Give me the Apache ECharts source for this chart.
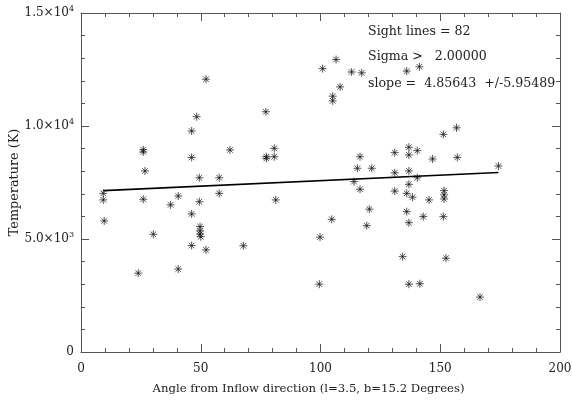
<!DOCTYPE html>
<html>
<head>
<meta charset="utf-8">
<script src="https://cdn.jsdelivr.net/npm/echarts@6/dist/echarts.min.js"></script>
<style>html,body{margin:0;padding:0;background:#fff}#c{width:572px;height:400px}</style>
</head>
<body>
<div id="c"></div>
<script>
// Angle from inflow direction (degrees)
const angles = [
  9.3, 9.3, 9.7, 23.9, 26.0, 26.0, 26.7, 26.0, 30.2, 37.4,
  40.6, 40.6, 46.2, 46.2, 46.2, 46.2, 48.3, 49.4, 49.4, 49.7,
  49.7, 49.7, 50.0, 52.2, 52.2, 57.7, 57.7, 62.2, 67.8, 77.2,
  77.4, 77.4, 80.7, 80.7, 81.3,
  99.5, 99.8, 100.9, 104.7, 105.1, 105.1, 106.5, 108.2, 113.0, 114.0,
  115.4, 116.5, 116.5, 117.2, 119.3, 120.4, 121.4,
  131.0, 131.0, 131.0, 134.3, 136.0, 136.0, 136.0, 136.9, 136.9, 136.9,
  136.9, 136.9, 136.9, 138.4, 140.4, 140.4, 141.3, 141.5, 142.9, 145.3,
  146.8, 151.3, 151.6, 151.6, 151.6, 151.3, 152.4, 156.8, 157.1, 166.6,
  174.3
];
// Temperature (K)
const temps = [
  7020, 6730, 5800, 3490, 8950, 8850, 8010, 6760, 5210, 6510,
  6900, 3670, 9780, 8610, 6110, 4710, 10410, 7710, 6650, 5550,
  5360, 5220, 5100, 4520, 12070, 7710, 7020, 8940, 4700, 10630,
  8570, 8640, 9010, 8640, 6730,
  3000, 5080, 12540, 5870, 11320, 11110, 12940, 11730, 12390, 7540,
  8130, 8640, 7200, 12350, 5590, 6320, 8130,
  8820, 7930, 7120, 4220, 12430, 7020, 6210, 9060, 8720, 8010,
  7420, 5720, 3000, 6850, 8910, 7710, 12620, 3020, 5990, 6730,
  8540, 9630, 7140, 6950, 6770, 5990, 4150, 9920, 8610, 2430,
  8230
];
// Linear fit endpoints
const fitX = [9.3, 174.3];
const fitY = [7140, 7940];
// Tick labels
const yTickMant = {0: '0', 5000: '5.0×10', 10000: '1.0×10', 15000: '1.5×10'};
const yTickExp = {0: '', 5000: '3', 10000: '4', 15000: '4'};
const annotations = ['Sight lines = 82', 'Sigma >   2.00000', 'slope =  4.85643  +/-5.95489'];

const FONT = 'DejaVu Serif';
const TXT = '#222';
const AX = '#555';

const chart = echarts.init(document.getElementById('c'), null, {renderer: 'canvas'});

const pts = angles.map((a, i) => [a, temps[i]]);
const fit = fitX.map((x, i) => [x, fitY[i]]);

const star = 'path://M0,-10L0,10M-10,0L10,0M-7,-7L7,7M-7,7L7,-7';

function xAxisBase(pos, showLabel) {
  return {
    type: 'value', position: pos, min: 0, max: 200, interval: 50,
    axisLine: {show: true, onZero: false, lineStyle: {color: AX, width: 1}},
    axisTick: {show: true, inside: true, length: 8, lineStyle: {color: AX}},
    minorTick: {show: true, splitNumber: 5, length: 4, lineStyle: {color: AX}},
    splitLine: {show: false},
    axisLabel: {show: showLabel, color: TXT, fontFamily: FONT, fontSize: 12, margin: 11}
  };
}
function yAxisBase(pos, showLabel) {
  return {
    type: 'value', position: pos, min: 0, max: 15000, interval: 5000,
    axisLine: {show: true, onZero: false, lineStyle: {color: AX, width: 1}},
    axisTick: {show: true, inside: true, length: 8, lineStyle: {color: AX}},
    minorTick: {show: true, splitNumber: 5, length: 4, lineStyle: {color: AX}},
    splitLine: {show: false},
    axisLabel: {
      show: showLabel, color: TXT, fontFamily: FONT, fontSize: 12, margin: 7,
      formatter: v => {
        const e = yTickExp[v];
        return e ? '{m|' + yTickMant[v] + '}{s|' + e + '}' : '{m|' + yTickMant[v] + '}';
      },
      rich: {
        m: {fontFamily: FONT, fontSize: 12, color: TXT},
        s: {fontFamily: FONT, fontSize: 8, color: TXT, padding: [0, 0, 8, 0]}
      }
    }
  };
}

const xb = xAxisBase('bottom', true);
xb.name = 'Angle from Inflow direction (l=3.5, b=15.2 Degrees)';
xb.nameLocation = 'middle';
xb.nameGap = 31;
xb.nameMoveOverlap = false;
xb.nameTextStyle = {color: TXT, fontFamily: FONT, fontSize: 11.7, padding: [0, 24, 0, 0]};

const yl = yAxisBase('left', true);
yl.name = 'Temperature (K)';
yl.nameLocation = 'middle';
yl.nameGap = 60;
yl.nameMoveOverlap = false;
yl.nameTextStyle = {color: TXT, fontFamily: FONT, fontSize: 12.8};

chart.setOption({
  animation: false,
  backgroundColor: '#fff',
  grid: {left: 81, right: 12, top: 13, bottom: 48, containLabel: false, outerBoundsMode: 'none'},
  xAxis: [xb, xAxisBase('top', false)],
  yAxis: [yl, yAxisBase('right', false)],
  graphic: annotations.map((t, i) => ({
    type: 'text', left: 368, top: [25, 50, 77][i],
    style: {text: t, fill: TXT, font: '12.6px "' + FONT + '"'}
  })),
  series: [
    {
      type: 'scatter', data: pts, xAxisIndex: 0, yAxisIndex: 0,
      symbol: star, symbolSize: 8,
      itemStyle: {color: 'rgba(0,0,0,0)', borderColor: '#111', borderWidth: 0.9}
    },
    {
      type: 'line', data: fit, xAxisIndex: 0, yAxisIndex: 0,
      symbol: 'none', lineStyle: {color: '#000', width: 1.6}
    }
  ]
});
</script>
</body>
</html>
